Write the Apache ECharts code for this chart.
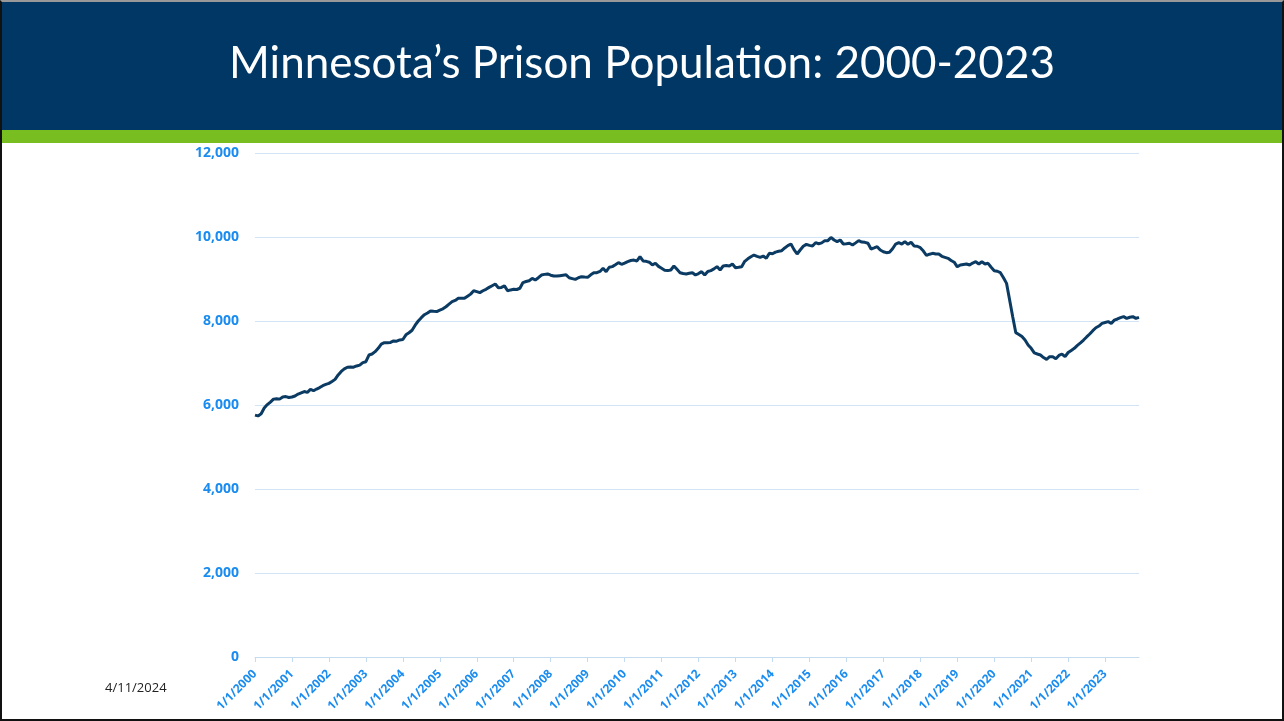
<!DOCTYPE html>
<html lang="en">
<head>
    <meta charset="UTF-8">
    <title>Minnesota Prison Population</title>
    <script type="text/javascript" src="https://cdn.jsdelivr.net/npm/echarts@6/dist/echarts.min.js"></script>
    <style>
        body { margin: 0; background: #fff; }
        #chart { width: 1284px; height: 721px; position: absolute; left: 0; top: 0; }
        #frame { position: absolute; left: 0; top: 0; width: 1280px; height: 717px; pointer-events: none;
                 border-left: 2px solid #111; border-right: 2px solid #111; border-bottom: 2px solid #111;
                 border-top: 2px solid #999; }
    </style>
</head>
<body>
<div id="chart"></div>
<div id="frame"></div>

<script type="text/javascript">
    // years on the axis, one label per January
    var years = [2000, 2001, 2002, 2003, 2004, 2005, 2006, 2007, 2008, 2009, 2010, 2011,
                 2012, 2013, 2014, 2015, 2016, 2017, 2018, 2019, 2020, 2021, 2022, 2023];

    // monthly population, Jan..Dec
    var pop2000 = [5760, 5740, 5790, 5930, 6010, 6070, 6140, 6150, 6140, 6190, 6200, 6180];
    var pop2001 = [6190, 6215, 6260, 6290, 6320, 6300, 6370, 6340, 6380, 6415, 6460, 6490];
    var pop2002 = [6515, 6560, 6610, 6715, 6800, 6860, 6900, 6905, 6900, 6930, 6950, 7010];
    var pop2003 = [7030, 7190, 7215, 7270, 7350, 7450, 7485, 7485, 7490, 7525, 7520, 7550];
    var pop2004 = [7560, 7670, 7720, 7780, 7900, 8000, 8080, 8150, 8190, 8240, 8230, 8225];
    var pop2005 = [8260, 8290, 8340, 8400, 8460, 8490, 8540, 8540, 8540, 8590, 8640, 8720];
    var pop2006 = [8700, 8675, 8720, 8755, 8800, 8840, 8880, 8790, 8800, 8835, 8720, 8740];
    var pop2007 = [8755, 8750, 8780, 8915, 8940, 8960, 9015, 8975, 9030, 9095, 9110, 9120];
    var pop2008 = [9090, 9070, 9070, 9080, 9090, 9100, 9030, 9010, 8990, 9030, 9055, 9045];
    var pop2009 = [9040, 9100, 9150, 9150, 9180, 9255, 9175, 9280, 9295, 9340, 9390, 9350];
    var pop2010 = [9380, 9415, 9440, 9450, 9430, 9530, 9430, 9420, 9400, 9335, 9375, 9300];
    var pop2011 = [9255, 9210, 9200, 9215, 9310, 9230, 9150, 9130, 9120, 9135, 9150, 9095];
    var pop2012 = [9130, 9175, 9095, 9180, 9200, 9240, 9295, 9215, 9310, 9320, 9310, 9357];
    var pop2013 = [9270, 9280, 9293, 9420, 9480, 9530, 9571, 9540, 9516, 9547, 9492, 9611];
    var pop2014 = [9600, 9640, 9660, 9674, 9740, 9794, 9833, 9700, 9595, 9690, 9780, 9825];
    var pop2015 = [9800, 9786, 9865, 9840, 9860, 9913, 9913, 9990, 9929, 9889, 9929, 9833];
    var pop2016 = [9840, 9850, 9810, 9860, 9913, 9880, 9873, 9850, 9714, 9740, 9770, 9690];
    var pop2017 = [9650, 9627, 9635, 9720, 9833, 9865, 9833, 9889, 9825, 9873, 9786, 9780];
    var pop2018 = [9746, 9666, 9560, 9590, 9611, 9595, 9595, 9540, 9516, 9492, 9440, 9400];
    var pop2019 = [9290, 9333, 9345, 9357, 9333, 9380, 9412, 9357, 9412, 9357, 9373, 9280];
    var pop2020 = [9198, 9185, 9150, 9030, 8896, 8500, 8103, 7722, 7680, 7630, 7547, 7430];
    var pop2021 = [7349, 7240, 7214, 7190, 7130, 7087, 7150, 7150, 7103, 7180, 7214, 7150];
    var pop2022 = [7250, 7300, 7349, 7420, 7480, 7547, 7620, 7690, 7770, 7840, 7880, 7944];
    var pop2023 = [7965, 7984, 7944, 8020, 8048, 8079, 8103, 8063, 8090, 8103, 8063, 8087];

    var yTicks = [0, 2000, 4000, 6000, 8000, 10000, 12000];

    var byYear = [pop2000, pop2001, pop2002, pop2003, pop2004, pop2005, pop2006, pop2007,
                  pop2008, pop2009, pop2010, pop2011, pop2012, pop2013, pop2014, pop2015,
                  pop2016, pop2017, pop2018, pop2019, pop2020, pop2021, pop2022, pop2023];

    var dates = [];
    var values = [];
    for (var i = 0; i < years.length; i++) {
        for (var m = 0; m < 12; m++) {
            dates.push((m + 1) + '/1/' + years[i]);
            values.push(byYear[i][m]);
        }
    }

    var myChart = echarts.init(document.getElementById('chart'));
    var option = {
        animation: false,
        backgroundColor: '#fff',
        title: {
            text: 'Minnesota\u2019s Prison Population: 2000-2023',
            left: 'center',
            top: 37,
            textStyle: { color: '#fff', fontSize: 44, fontWeight: 'normal', fontFamily: 'Lato' }
        },
        graphic: [
            { type: 'rect', z: -1, shape: { x: 0, y: 0, width: 1284, height: 130 }, style: { fill: '#003764' } },
            { type: 'rect', z: -1, shape: { x: 0, y: 130, width: 1284, height: 13 }, style: { fill: '#78BE20' } },
            { type: 'text', left: 105, top: 682,
              style: { text: '4/11/2024', fill: '#222', font: '13px "Open Sans"' } }
        ],
        grid: { left: 255, right: 145, top: 153, bottom: 64 },
        xAxis: {
            type: 'category',
            data: dates,
            boundaryGap: false,
            axisLine: { lineStyle: { color: '#C5DCF0' } },
            axisTick: { interval: 11, length: 5, lineStyle: { color: '#C5DCF0' } },
            axisLabel: {
                interval: 11,
                rotate: 45,
                margin: 15,
                color: '#1A8CF0',
                fontSize: 12,
                fontWeight: 'bold',
                fontFamily: 'Open Sans'
            }
        },
        yAxis: {
            type: 'value',
            min: yTicks[0],
            max: yTicks[yTicks.length - 1],
            interval: 2000,
            axisLine: { show: false },
            axisTick: { show: false },
            splitLine: { lineStyle: { color: '#D2E5F6' } },
            axisLabel: {
                margin: 16,
                color: '#1A8CF0',
                fontSize: 14,
                fontWeight: 'bold',
                fontFamily: 'Open Sans',
                formatter: function (v) { return v.toLocaleString('en-US'); }
            }
        },
        series: [{
            type: 'line',
            data: values,
            showSymbol: false,
            smooth: false,
            lineStyle: { color: '#0B3A62', width: 3 }
        }]
    };
    myChart.setOption(option);
</script>
</body>
</html>
